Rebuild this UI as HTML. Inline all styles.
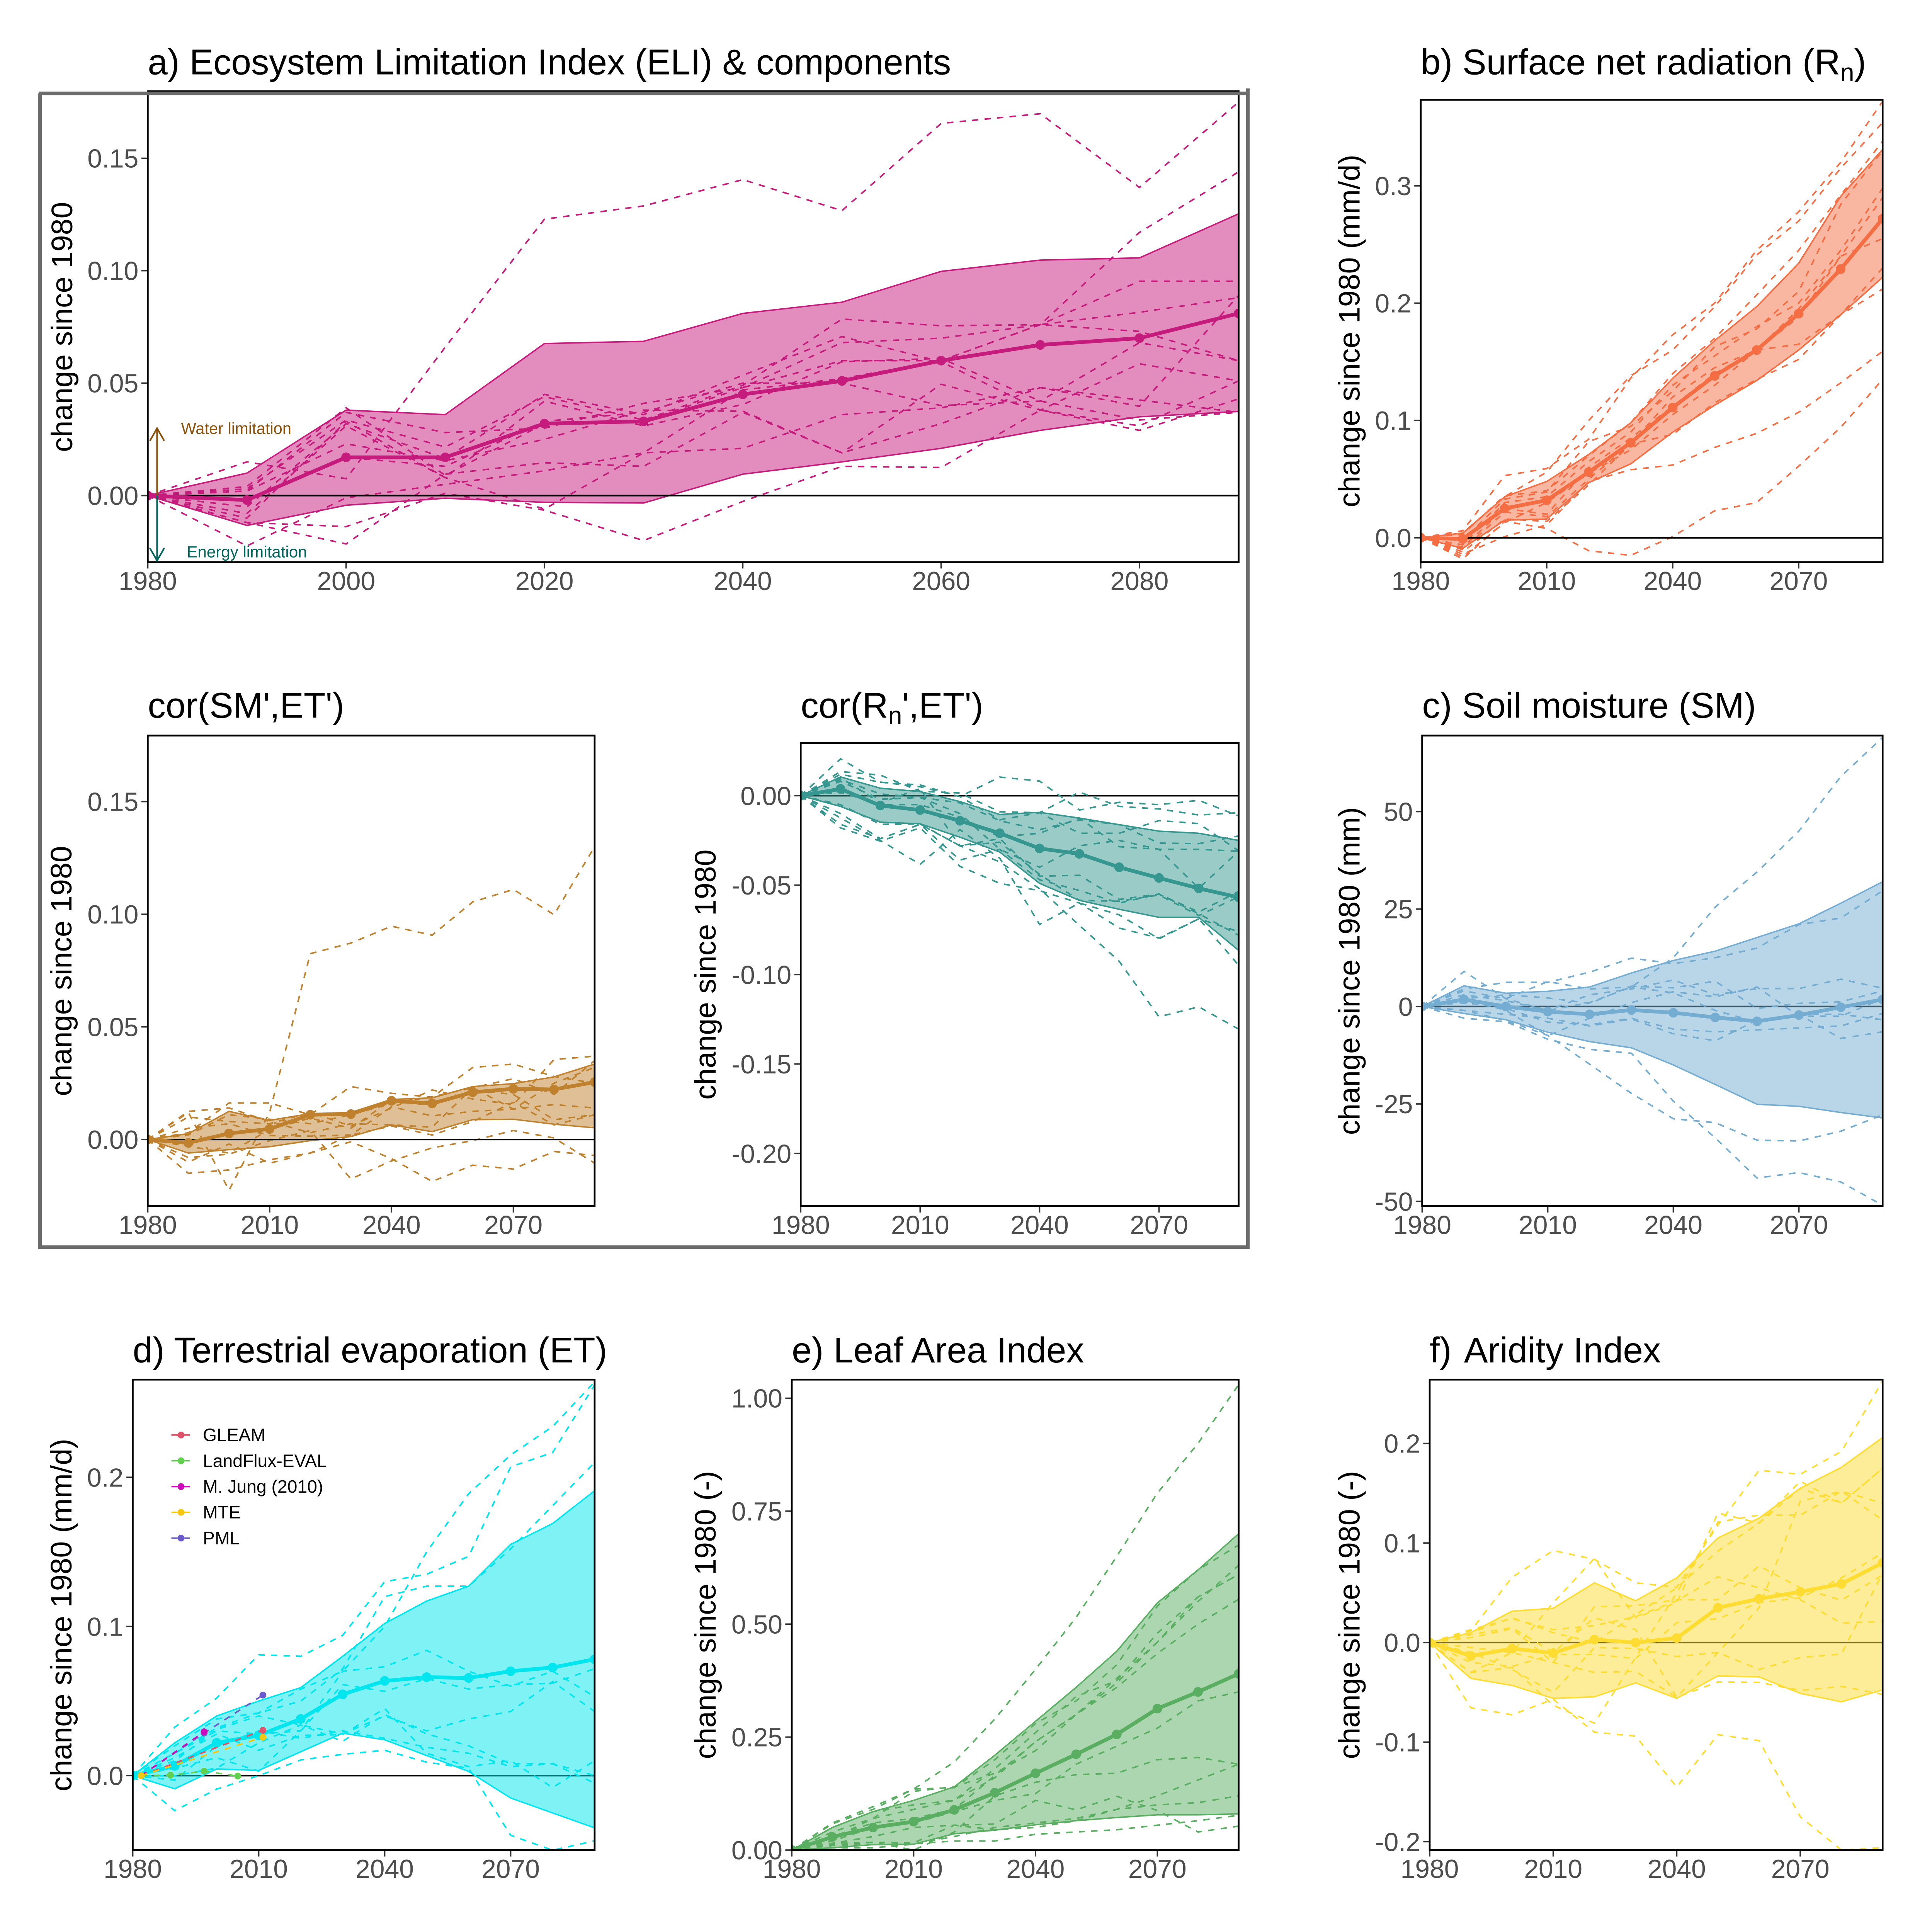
<!DOCTYPE html>
<html lang="en">
<head>
<meta charset="utf-8">
<title>Ecosystem Limitation Index and components</title>
<style>
html,body{margin:0;padding:0;background:#fff;width:100%;height:100%;overflow:hidden}
svg{display:block;width:100vw;height:100vh}
text{font-family:"Liberation Sans",Arial,sans-serif}
.title{font-size:100px;fill:#000}
.ytitle{font-size:83.3px;fill:#000;text-anchor:middle}
.tick{font-size:73.3px;fill:#4D4D4D}
.legend{font-size:50px;fill:#000}
</style>
</head>
<body>
<svg id="chart" xmlns="http://www.w3.org/2000/svg" viewBox="0 0 5400 5400">
<rect x="0" y="0" width="5400" height="5400" fill="#fff"/>
<g id="panels"></g>

<text class="title" x="413" y="208">a) Ecosystem Limitation Index (ELI) &amp; components</text>
<text class="title" x="3971" y="208">b) Surface net radiation (R<tspan font-size="70" dy="18">n</tspan><tspan dy="-18">)</tspan></text>
<text class="title" x="413" y="2006">cor(SM',ET')</text>
<text class="title" x="2238" y="2006">cor(R<tspan font-size="70" dy="18">n</tspan><tspan dy="-18">',ET')</tspan></text>
<text class="title" x="3975" y="2006">c) Soil moisture (SM)</text>
<text class="title" x="371" y="3808">d) Terrestrial evaporation (ET)</text>
<text class="title" x="2213" y="3808">e) Leaf Area Index</text>
<text class="title" x="3996" y="3808">f) <tspan dx="7">Aridity Index</tspan></text>

<text class="ytitle" transform="translate(202 914) rotate(-90)">change since 1980</text>
<text class="ytitle" transform="translate(3800 925) rotate(-90)">change since 1980 (mm/d)</text>
<text class="ytitle" transform="translate(200 2714) rotate(-90)">change since 1980</text>
<text class="ytitle" transform="translate(2000 2724) rotate(-90)">change since 1980</text>
<text class="ytitle" transform="translate(3800 2714) rotate(-90)">change since 1980 (mm)</text>
<text class="ytitle" transform="translate(200 4514) rotate(-90)">change since 1980 (mm/d)</text>
<text class="ytitle" transform="translate(2000 4514) rotate(-90)">change since 1980 (-)</text>
<text class="ytitle" transform="translate(3800 4514) rotate(-90)">change since 1980 (-)</text>

<g>
  <path d="M439 1385V1197M419 1232L439 1197L459 1232" fill="none" stroke="#8C510A" stroke-width="4.5"/>
  <path d="M439 1385V1567M419 1532L439 1567L459 1532" fill="none" stroke="#01665E" stroke-width="4.5"/>
  <text x="506" y="1213" font-size="45" fill="#8C510A">Water limitation</text>
  <text x="522" y="1558" font-size="45.5" fill="#01665E">Energy limitation</text>
</g>

<g>
  <g><line x1="479" x2="531" y1="4011" y2="4011" stroke="#DF536B" stroke-width="4"/><circle cx="506" cy="4011" r="9.5" fill="#DF536B"/><text class="legend" x="567" y="4028">GLEAM</text></g>
  <g><line x1="479" x2="531" y1="4083" y2="4083" stroke="#61D04F" stroke-width="4"/><circle cx="506" cy="4083" r="9.5" fill="#61D04F"/><text class="legend" x="567" y="4100">LandFlux-EVAL</text></g>
  <g><line x1="479" x2="531" y1="4155" y2="4155" stroke="#CD0BBC" stroke-width="4"/><circle cx="506" cy="4155" r="9.5" fill="#CD0BBC"/><text class="legend" x="567" y="4172">M. Jung (2010)</text></g>
  <g><line x1="479" x2="531" y1="4227" y2="4227" stroke="#F5C710" stroke-width="4"/><circle cx="506" cy="4227" r="9.5" fill="#F5C710"/><text class="legend" x="567" y="4244">MTE</text></g>
  <g><line x1="479" x2="531" y1="4299" y2="4299" stroke="#6A5ACD" stroke-width="4"/><circle cx="506" cy="4299" r="9.5" fill="#6A5ACD"/><text class="legend" x="567" y="4316">PML</text></g>
</g>

<path d="M108 261H3487.7M3487.7 247V3486H112V261" fill="none" stroke="#6B6B6B" stroke-width="10"/>
</svg>

<script>
const years = [1980,1990,2000,2010,2020,2030,2040,2050,2060,2070,2080,2090];
const xTicksA = [1980,2000,2020,2040,2060,2080];
const xTicksB = [1980,2010,2040,2070];

/* a) ELI */
const aMean = [0,-.002,.017,.017,.032,.033,.045,.051,.060,.067,.070,.081];
const aUpper = [0,.010,.038,.036,.0676,.0686,.081,.086,.0997,.1047,.1057,.1253];
const aLower = [0,-.0133,-.0043,-.0012,-.003,-.0033,.0095,.015,.021,.029,.035,.0374];
const aMembers = [
[0,.015,.0075,.066,.1229,.1288,.1405,.1267,.1655,.1698,.137,.175],
[0,-.01,.033,.008,-.006,.019,.047,.052,.060,.076,.117,.144],
[0,-.0224,-.001,.005,.011,.019,.021,.036,.039,.048,.0425,.037],
[0,-.012,-.0215,.0095,.0146,.013,.037,.019,.0495,.038,.029,.043],
[0,-.012,-.0138,.001,-.0065,-.02,-.0026,.013,.0125,.038,.031,.051],
[0,.003,.0336,.0216,.044,.0336,.049,.0785,.0755,.076,.073,.060],
[0,.002,.037,.028,.030,.041,.048,.068,.07,.076,.0815,.088],
[0,-.005,.032,.0165,.045,.036,.0535,.0707,.0595,.038,.0586,.051],
[0,.002,.023,.0155,.025,.038,.0375,.019,.032,.048,.0397,.089],
[0,-.008,.031,.008,.042,.031,.0405,.0595,.061,.042,.0336,.037],
[0,.004,.039,.009,.032,.033,.048,.06,.06,.076,.0953,.0953],
[0,-.002,.017,.013,.033,.037,.05,.05,.04,.042,.068,.06]
];
const aYTicks = [0,.05,.10,.15];
const aYLabels = ['0.00','0.05','0.10','0.15'];

/* b) Rn */
const bMean = [0,-.001,.025,.032,.056,.081,.111,.138,.160,.191,.229,.272];
const bUpper = [0,.004,.035,.048,.071,.098,.136,.168,.197,.234,.291,.331];
const bLower = [0,-.009,.015,.016,.047,.063,.09,.113,.134,.16,.19,.222];
const bMembers = [
[0,-.018,.014,.008,-.011,-.015,.001,.023,.03,.061,.094,.135],
[0,-.014,.001,.011,.048,.058,.062,.077,.089,.107,.132,.159],
[0,.006,.053,.059,.084,.136,.173,.2,.245,.278,.32,.372],
[0,.004,.035,.056,.10,.138,.16,.197,.241,.27,.315,.354],
[0,.003,.036,.04,.07,.098,.14,.17,.207,.245,.292,.338],
[0,-.002,.033,.039,.082,.095,.125,.163,.178,.21,.284,.33],
[0,-.006,.03,.035,.065,.09,.13,.155,.18,.2,.245,.298],
[0,-.01,.022,.018,.05,.08,.12,.145,.16,.165,.19,.23],
[0,-.012,.016,.014,.045,.08,.088,.115,.135,.152,.19,.212],
[0,-.008,.025,.02,.06,.085,.112,.14,.16,.188,.24,.255],
[0,-.016,.013,.03,.055,.075,.105,.13,.16,.195,.24,.29]
];
const bYTicks = [0,.1,.2,.3];
const bYLabels = ['0.0','0.1','0.2','0.3'];

/* cor(SM',ET') */
const sMean = [0,-.0015,.0027,.0047,.011,.0113,.0172,.016,.021,.0225,.0222,.0255];
const sUpper = [0,.0026,.0125,.0085,.0115,.012,.0178,.0185,.0235,.0248,.0278,.0335];
const sLower = [0,-.006,-.0045,-.0032,-.0005,.0013,.0065,.0035,.0088,.009,.0068,.0052];
const sMembers = [
[0,.012,-.0225,.012,.0825,.0872,.0947,.0907,.1055,.111,.0998,.13],
[0,-.015,-.0135,-.009,-.006,-.001,-.0085,-.0186,-.0114,-.0131,-.0053,-.0071],
[0,-.008,-.0065,-.0005,.004,-.0175,-.0095,-.0037,-.0005,.004,.0007,-.0105],
[0,.003,.0162,.0162,.011,.0235,.0205,.0188,.032,.0335,.028,.025],
[0,.01,.008,.007,.012,.006,.014,.022,.018,.0155,.0355,.037],
[0,.0125,.014,.008,.003,.007,.0065,.0055,.023,.027,.02,.035],
[0,.005,.007,.0018,.0015,.002,.0145,.0105,.0125,.0135,.0155,.014],
[0,-.003,-.006,.0045,.0095,.005,.0175,.015,.022,.02,.0088,.011],
[0,-.01,-.002,-.0105,-.006,.002,.006,.002,.008,.0165,.0065,.011],
[0,.002,.011,.009,.007,.011,.016,.019,.023,.0135,.025,.032]
];
const sYTicks = [0,.05,.10,.15];
const sYLabels = ['0.00','0.05','0.10','0.15'];

/* cor(Rn',ET') */
const rMean = [0,.0038,-.0055,-.008,-.014,-.021,-.0295,-.0325,-.04,-.046,-.0518,-.0568];
const rUpper = [0,.0105,.0042,.0023,-.0033,-.0105,-.0093,-.0125,-.0162,-.0198,-.021,-.025];
const rLower = [0,-.006,-.0148,-.0157,-.0232,-.0315,-.049,-.0585,-.0635,-.068,-.068,-.0865];
const rMembers = [
[0,-.01,-.024,-.016,-.028,-.037,-.052,-.0725,-.0926,-.1236,-.118,-.1305],
[0,-.018,-.0254,-.018,-.0395,-.049,-.0531,-.06,-.074,-.0796,-.0688,-.0948],
[0,-.0124,-.025,-.0384,-.019,-.035,-.072,-.06,-.0666,-.08,-.0688,-.076],
[0,.0206,.0076,.005,-.0005,.0104,.0082,-.008,-.0037,-.005,-.0026,-.0113],
[0,.0135,.0115,.0025,.0015,-.009,-.0095,.002,-.006,-.0074,-.0108,-.0095],
[0,.012,.0075,.006,-.0005,-.0135,-.0095,-.021,-.021,-.0139,-.0156,-.0308],
[0,.009,.001,-.001,-.004,-.014,-.019,-.0135,-.0162,-.0265,-.0268,-.0225],
[0,.002,-.005,-.005,-.012,-.023,-.021,-.0125,-.0285,-.03,-.03,-.031],
[0,-.005,-.016,-.0158,-.028,-.024,-.045,-.0445,-.058,-.055,-.065,-.0535],
[0,.01,-.004,.004,-.028,-.026,-.044,-.0585,-.059,-.0555,-.067,-.0565],
[0,.008,-.002,-.001,-.01,-.03,-.04,-.028,-.025,-.03,-.0518,-.031],
[0,-.016,-.024,-.016,-.036,-.03,-.047,-.053,-.06,-.055,-.066,-.078]
];
const rYTicks = [0,-.05,-.10,-.15,-.20];
const rYLabels = ['0.00','-0.05','-0.10','-0.15','-0.20'];

/* c) soil moisture */
const cMean = [0,1.8,0,-1.3,-2,-.9,-1.6,-2.8,-3.8,-2.2,-.2,1.8];
const cUpper = [0,5.3,3.4,3.9,5,8.6,11.8,14.2,17.7,21.2,26.5,32];
const cLower = [0,-1.8,-3.4,-6.6,-9,-10.6,-15,-20,-25.1,-25.6,-27.2,-28.6];
const cMembers = [
[0,9,2,-1,1,5,12.5,25.5,34.5,45,59,69],
[0,4.5,6.2,6.2,8.8,12.4,11,12.5,15,21,22.7,29.7],
[0,-3,-3.9,-8.4,-11,-12,-24.3,-33.7,-44,-42.6,-45,-51],
[0,-1,-3.6,-7.4,-14.8,-22.3,-28.8,-29.8,-34.3,-34.5,-32,-27.8],
[0,4,2,6.4,4.5,5,3.5,-1,-4,-2,-8.2,-6.5],
[0,3,1.5,-1,3,4.5,6.8,3,4.6,4.6,7,4.7],
[0,2,3,2.2,.8,5.2,4.8,6.5,-.5,.8,1.2,4],
[0,1,-.5,-4,-4.7,-3,-5.8,-6.5,-6,-5.5,-5,-1.8],
[0,-1,-2,-3,-5,-3.2,-7,-8.8,-3.5,-2,-2,-3.4],
[0,2,-1,-7.5,-3,1,3.8,2.5,5,-2.5,-2.5,2]
];
const cYTicks = [-50,-25,0,25,50];
const cYLabels = ['-50','-25','0','25','50'];

/* d) ET */
const dMean = [0,.0065,.022,.027,.038,.0545,.0635,.066,.0655,.07,.0725,.078];
const dUpper = [0,.022,.04,.05,.059,.08,.102,.117,.127,.155,.169,.191];
const dLower = [0,-.0088,.0045,.0035,.016,.0285,.024,.0135,.0028,-.015,-.025,-.035];
const dMembers = [
[0,.015,.032,.042,.058,.07,.10,.15,.189,.215,.234,.264],
[0,.0325,.052,.081,.08,.094,.13,.135,.147,.207,.2166,.262],
[0,.02,.038,.042,.05,.0715,.12,.127,.127,.152,.181,.21],
[0,-.0235,-.009,0,.0105,.0143,.017,.009,.005,-.04,-.05,-.0437],
[0,.01,.031,.04,.034,.028,.04,.03,.038,.043,.063,.043],
[0,.015,.03,.028,.03,.07,.073,.084,.07,.06,.07,.053],
[0,.005,.012,.003,.03,.061,.0565,.065,.058,.061,.062,.0717],
[0,0,.005,.022,.034,.023,.041,.028,.02,.008,.008,-.005],
[0,-.003,.02,.03,.025,.03,.025,.019,.015,.006,.008,0],
[0,.012,.028,.017,.027,.0275,.045,.015,.006,.01,-.008,.01]
];
const dYTicks = [0,.1,.2];
const dYLabels = ['0.0','0.1','0.2'];

/* observation products in panel d */
const gleamYears = [1982,2011];
const gleamValues = [0,.0304];
const landfluxYears = [1982,1989,1997,2005];
const landfluxValues = [0,.0003,.003,-.0003];
const jungYears = [1982,1997];
const jungValues = [0,.0294];
const mteYears = [1982,2011];
const mteValues = [0,.0257];
const pmlYears = [1982,1997,2011];
const pmlValues = [0,.0285,.054];

/* e) LAI */
const eMean = [0,.029,.05,.063,.089,.127,.17,.212,.256,.313,.35,.39];
const eUpper = [0,.05,.085,.11,.14,.21,.285,.36,.44,.547,.62,.70];
const eLower = [0,.005,.012,.013,.036,.044,.056,.065,.072,.078,.078,.08];
const eMembers = [
[0,.06,.096,.135,.195,.29,.40,.515,.65,.79,.9,1.03],
[0,.058,.09,.135,.138,.2,.28,.33,.41,.54,.62,.675],
[0,.05,.085,.1,.11,.18,.26,.34,.375,.48,.56,.61],
[0,.04,.07,.09,.11,.16,.24,.30,.36,.435,.50,.555],
[0,.03,.06,.07,.09,.165,.24,.30,.38,.46,.55,.63],
[0,.02,.05,.06,.085,.11,.125,.19,.23,.27,.33,.35],
[0,.015,.017,.016,.055,.0575,.11,.089,.119,.0875,.04,.053],
[0,.012,.017,0,.04,.12,.15,.167,.17,.2,.205,.19],
[0,.005,.005,.013,.03,.05,.06,.07,.09,.12,.155,.19],
[0,.01,.012,.014,.02,.02,.035,.04,.045,.055,.065,.077],
[0,.015,.03,.05,.055,.045,.05,.065,.09,.10,.105,.12],
[0,.025,.07,.13,.14,.17,.22,.3,.37,.46,.56,.61]
];
const eYTicks = [0,.25,.5,.75,1];
const eYLabels = ['0.00','0.25','0.50','0.75','1.00'];

/* f) aridity */
const fMean = [0,-.0135,-.006,-.0105,.003,0,.0045,.035,.044,.051,.059,.08];
const fUpper = [0,.01,.0315,.0345,.06,.042,.065,.105,.125,.155,.176,.206];
const fLower = [0,-.036,-.043,-.056,-.0545,-.0405,-.056,-.0335,-.0345,-.051,-.0595,-.0475];
const fMembers = [
[0,-.0655,-.0725,-.057,-.09,-.094,-.145,-.0925,-.0985,-.175,-.2084,-.206],
[0,.012,.0655,.0925,.0835,.06,.0555,.118,.173,.169,.192,.263],
[0,-.005,-.01,.04,.0845,.025,.04,.13,.12,.162,.14,.175],
[0,-.03,-.025,-.063,-.081,-.015,.05,.121,.128,.128,.152,.14],
[0,.013,.024,.013,.017,.026,.042,.066,.055,.043,.0195,.0215],
[0,.005,.014,-.02,.036,.037,.043,.043,.077,.055,.0425,.068],
[0,-.01,-.027,-.05,-.005,-.006,-.014,-.01,-.027,-.015,-.0115,.07],
[0,-.03,-.01,-.02,-.03,-.029,-.055,-.0395,-.04,-.048,-.044,-.052],
[0,-.02,-.024,-.012,-.012,-.016,.02,.024,.04,.045,.065,.09],
[0,.008,.015,-.01,.025,.013,-.055,-.01,.035,.142,.152,.123],
[0,.01,.025,.01,0,.028,.055,.092,.12,.155,.14,.175]
];
const fYTicks = [-.2,-.1,0,.1,.2];
const fYLabels = ['-0.2','-0.1','0.0','0.1','0.2'];

const NS = 'http://www.w3.org/2000/svg';
const root = document.getElementById('panels');

function make(parent, tag, attrs) {
  const el = document.createElementNS(NS, tag);
  for (const k in attrs) el.setAttribute(k, attrs[k]);
  parent.appendChild(el);
  return el;
}

function drawPanel(p) {
  const X = v => p.l + (v - 1980) / 110 * (p.r - p.l);
  const Y = v => p.b - (v - p.ymin) / (p.ymax - p.ymin) * (p.b - p.t);
  const pts = (xs, ys) => xs.map((x, i) => X(x).toFixed(1) + ',' + Y(ys[i]).toFixed(1)).join(' ');

  const g = make(root, 'g', {});
  
  

  const defs = make(g, 'defs', {});
  const clip = make(defs, 'clipPath', {id: 'clip-' + p.key});
  make(clip, 'rect', {x: p.l, y: p.t, width: p.r - p.l, height: p.b - p.t});
  const plot = make(g, 'g', {'clip-path': 'url(#clip-' + p.key + ')'});

  function zeroLine() {
    const z = make(plot, 'line', {x1: p.l, x2: p.r, y1: Y(0), y2: Y(0), stroke: '#000', 'stroke-width': 4.5});
    
    
  }
  if (!p.zeroOnTop) zeroLine();

  const band = make(plot, 'polygon', {
    points: pts(years, p.upper) + ' ' + pts(years.slice().reverse(), p.lower.slice().reverse()),
    fill: p.color, 'fill-opacity': 0.5, stroke: 'none'
  });
  
  

  [p.upper, p.lower].forEach(series => {
    const edge = make(plot, 'polyline', {points: pts(years, series), fill: 'none', stroke: p.color, 'stroke-width': 4});
    
    
  });

  p.members.forEach(series => {
    const m = make(plot, 'polyline', {points: pts(years, series), fill: 'none', stroke: p.color, 'stroke-width': 4.3, 'stroke-dasharray': '17.5 17.5'});
    
    
  });

  if (p.zeroOnTop) zeroLine();

  const mean = make(plot, 'polyline', {points: pts(years, p.mean), fill: 'none', stroke: p.color, 'stroke-width': 10.5, 'stroke-linejoin': 'round'});
  
  

  years.forEach((yr, i) => {
    const c = make(plot, 'circle', {cx: X(yr), cy: Y(p.mean[i]), r: 13.5, fill: p.color});
    
    
  });

  p.xTicks.forEach(v => {
    const t = make(g, 'line', {x1: X(v), x2: X(v), y1: p.b, y2: p.b + 18, stroke: '#333', 'stroke-width': 4});
    
    
    const l = make(g, 'text', {class: 'tick', x: X(v), y: p.b + 78, 'text-anchor': 'middle'});
    l.textContent = String(v);
    
    
  });

  p.yTicks.forEach((v, i) => {
    const t = make(g, 'line', {x1: p.l - 18, x2: p.l, y1: Y(v), y2: Y(v), stroke: '#333', 'stroke-width': 4});
    
    
    const l = make(g, 'text', {class: 'tick', x: p.l - 26, y: Y(v) + 26, 'text-anchor': 'end'});
    l.textContent = p.yLabels[i];
    
    
  });

  if (p.products) {
    p.products.forEach(s => {
      const pl = make(plot, 'polyline', {points: pts(s.years, s.values), fill: 'none', stroke: s.color, 'stroke-width': 4.3, 'stroke-dasharray': '17.5 17.5'});
      
      
    });
    p.products.forEach(s => {
      s.years.forEach((yr, i) => {
        const c = make(plot, 'circle', {cx: X(yr), cy: Y(s.values[i]), r: 9.5, fill: s.color});
        
        
      });
    });
  }

  const frame = make(g, 'rect', {x: p.l, y: p.t, width: p.r - p.l, height: p.b - p.t, fill: 'none', stroke: '#000', 'stroke-width': 5});
  
  
}

drawPanel({key:'a', l:413, r:3462, t:255, b:1571, ymin:-.02957, ymax:.1798, color:'#C51B7D', zeroOnTop:true,
  mean:aMean, upper:aUpper, lower:aLower, members:aMembers, xTicks:xTicksA, yTicks:aYTicks, yLabels:aYLabels});
drawPanel({key:'b', l:3971, r:5262, t:279, b:1571, ymin:-.0207, ymax:.3733, color:'#F46D43', zeroOnTop:true,
  mean:bMean, upper:bUpper, lower:bLower, members:bMembers, xTicks:xTicksB, yTicks:bYTicks, yLabels:bYLabels});
drawPanel({key:'cor-sm', l:413, r:1662, t:2056, b:3371, ymin:-.02954, ymax:.1793, color:'#BF812D', zeroOnTop:true,
  mean:sMean, upper:sUpper, lower:sLower, members:sMembers, xTicks:xTicksB, yTicks:sYTicks, yLabels:sYLabels});
drawPanel({key:'cor-rn', l:2238, r:3462, t:2077, b:3371, ymin:-.2294, ymax:.0294, color:'#35978F', zeroOnTop:false,
  mean:rMean, upper:rUpper, lower:rLower, members:rMembers, xTicks:xTicksB, yTicks:rYTicks, yLabels:rYLabels});
drawPanel({key:'c', l:3975, r:5262, t:2056, b:3371, ymin:-51.2, ymax:69.5, color:'#74ADD1', zeroOnTop:false,
  mean:cMean, upper:cUpper, lower:cLower, members:cMembers, xTicks:xTicksB, yTicks:cYTicks, yLabels:cYLabels});
drawPanel({key:'d', l:371, r:1662, t:3856, b:5171, ymin:-.0499, ymax:.2655, color:'#00E5EE', zeroOnTop:false,
  mean:dMean, upper:dUpper, lower:dLower, members:dMembers, xTicks:xTicksB, yTicks:dYTicks, yLabels:dYLabels,
  products:[
    {name:'landflux-eval', years:landfluxYears, values:landfluxValues, color:'#61D04F'},
    {name:'pml', years:pmlYears, values:pmlValues, color:'#6A5ACD'},
    {name:'m-jung', years:jungYears, values:jungValues, color:'#CD0BBC'},
    {name:'gleam', years:gleamYears, values:gleamValues, color:'#DF536B'},
    {name:'mte', years:mteYears, values:mteValues, color:'#F5C710'}
  ]});
drawPanel({key:'e', l:2213, r:3462, t:3856, b:5171, ymin:0, ymax:1.0412, color:'#5AAE61', zeroOnTop:false,
  mean:eMean, upper:eUpper, lower:eLower, members:eMembers, xTicks:xTicksB, yTicks:eYTicks, yLabels:eYLabels});
drawPanel({key:'f', l:3996, r:5262, t:3856, b:5171, ymin:-.2084, ymax:.2641, color:'#FEDC32', zeroOnTop:false,
  mean:fMean, upper:fUpper, lower:fLower, members:fMembers, xTicks:xTicksB, yTicks:fYTicks, yLabels:fYLabels});
</script>
</body>
</html>
